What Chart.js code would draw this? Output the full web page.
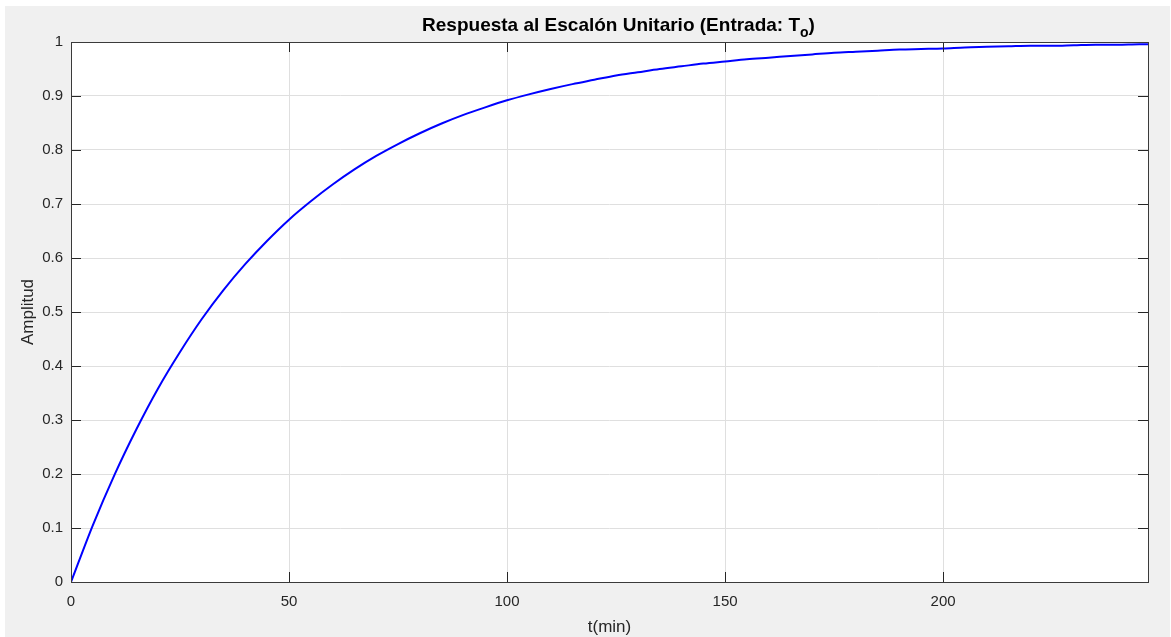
<!DOCTYPE html>
<html>
<head>
<meta charset="utf-8">
<title>Respuesta al Escalón Unitario</title>
<script src="https://cdn.jsdelivr.net/npm/chart.js@4/dist/chart.umd.min.js"></script>
<style>
  html, body { margin: 0; padding: 0; background: #ffffff; }
  canvas { display: block; }
</style>
</head>
<body>
<canvas id="c" width="1171" height="637"></canvas>
<script>
// Step response samples: time in minutes and output amplitude
const tiempo = [0, 5, 10, 15, 20, 25, 30, 35, 40, 45, 50, 55, 60, 65, 70, 75, 80, 85, 90, 95,
  100, 105, 110, 115, 120, 125, 130, 135, 140, 145, 150, 155, 160, 165, 170, 175, 180, 185,
  190, 195, 200, 205, 210, 215, 220, 225, 230, 235, 240, 245, 247];
const amplitud = [0, 0.105, 0.199, 0.283, 0.359, 0.426, 0.487, 0.541, 0.589, 0.632, 0.671,
  0.705, 0.736, 0.764, 0.789, 0.811, 0.831, 0.849, 0.865, 0.879, 0.892, 0.903, 0.913, 0.922,
  0.930, 0.938, 0.944, 0.950, 0.955, 0.960, 0.964, 0.968, 0.971, 0.974, 0.977, 0.980, 0.982,
  0.984, 0.986, 0.987, 0.988, 0.990, 0.991, 0.992, 0.993, 0.993, 0.994, 0.995, 0.995, 0.996,
  0.996];

// Axis ticks
const xTicks = [0, 50, 100, 150, 200];
const yTicks = [0, 0.1, 0.2, 0.3, 0.4, 0.5, 0.6, 0.7, 0.8, 0.9, 1];
const xMax = 247;

const titulo = 'Respuesta al Escalón Unitario (Entrada: T';
const tituloSub = 'o';
const etiquetaX = 't(min)';
const etiquetaY = 'Amplitud';

const FONT = '"Liberation Sans", Arial, Helvetica, sans-serif';
const AXIS = '#262626';
const TICK_LEN = 10;

const puntos = tiempo.map((t, i) => ({ x: t, y: amplitud[i] }));

// Figure background, title, axis labels, boxed axes and inward ticks
const marco = {
  id: 'marco',
  beforeDraw(chart) {
    const ctx = chart.ctx;
    ctx.save();
    ctx.fillStyle = '#ffffff';
    ctx.fillRect(0, 0, chart.width, chart.height);
    ctx.fillStyle = '#f0f0f0';
    ctx.fillRect(5, 6, chart.width - 6, chart.height - 6);
    const a = chart.chartArea;
    ctx.fillStyle = '#ffffff';
    ctx.fillRect(a.left, a.top, a.right - a.left, a.bottom - a.top);
    ctx.restore();
  },
  afterDatasetsDraw(chart) {
    const ctx = chart.ctx;
    const a = chart.chartArea;
    const xs = chart.scales.x, ys = chart.scales.y;
    ctx.save();
    ctx.strokeStyle = AXIS;
    ctx.lineWidth = 1;
    ctx.beginPath();
    xTicks.forEach(v => {
      const px = Math.round(xs.getPixelForValue(v)) + 0.5;
      ctx.moveTo(px, a.bottom); ctx.lineTo(px, a.bottom - TICK_LEN);
      ctx.moveTo(px, a.top); ctx.lineTo(px, a.top + TICK_LEN);
    });
    yTicks.forEach(v => {
      const py = Math.round(ys.getPixelForValue(v)) + 0.5;
      ctx.moveTo(a.left, py); ctx.lineTo(a.left + TICK_LEN, py);
      ctx.moveTo(a.right, py); ctx.lineTo(a.right - TICK_LEN, py);
    });
    ctx.stroke();
    ctx.strokeStyle = '#3a3a3a';
    ctx.strokeRect(Math.round(a.left) + 0.5, Math.round(a.top) + 0.5,
      Math.round(a.right - a.left), Math.round(a.bottom - a.top));

    // title with subscript
    const cx = (a.left + a.right) / 2;
    ctx.fillStyle = '#000000';
    ctx.font = 'bold 19px ' + FONT;
    const wMain = ctx.measureText(titulo).width;
    ctx.font = 'bold 14px ' + FONT;
    const wSub = ctx.measureText(tituloSub).width;
    ctx.font = 'bold 19px ' + FONT;
    const wClose = ctx.measureText(')').width;
    let x0 = cx + 9 - (wMain + wSub + wClose) / 2;
    const base = 31;
    ctx.textAlign = 'left';
    ctx.textBaseline = 'alphabetic';
    ctx.fillText(titulo, x0, base);
    ctx.font = 'bold 14px ' + FONT;
    ctx.fillText(tituloSub, x0 + wMain, base + 6);
    ctx.font = 'bold 19px ' + FONT;
    ctx.fillText(')', x0 + wMain + wSub, base);

    // axis labels
    ctx.fillStyle = AXIS;
    ctx.font = '17px ' + FONT;
    ctx.textAlign = 'center';
    ctx.textBaseline = 'middle';
    ctx.fillText(etiquetaX, cx, 627);
    ctx.translate(28, (a.top + a.bottom) / 2);
    ctx.rotate(-Math.PI / 2);
    ctx.fillText(etiquetaY, 0, 0);
    ctx.restore();
  }
};

new Chart(document.getElementById('c'), {
  type: 'line',
  data: {
    datasets: [{
      data: puntos,
      borderColor: '#0000ff',
      borderWidth: 2,
      pointRadius: 0,
      fill: false,
      cubicInterpolationMode: 'monotone'
    }]
  },
  options: {
    responsive: false,
    animation: false,
    devicePixelRatio: 1,
    layout: { padding: { left: 0, top: 42, right: 23, bottom: 0 } },
    plugins: { legend: { display: false }, title: { display: false }, tooltip: { enabled: false } },
    scales: {
      x: {
        type: 'linear',
        min: 0,
        max: xMax,
        afterBuildTicks(scale) { scale.ticks = xTicks.map(v => ({ value: v })); },
        afterFit(scale) { scale.height = 55; },
        ticks: {
          padding: 11,
          color: AXIS,
          font: { family: FONT, size: 15 },
          maxRotation: 0,
          callback: v => String(v)
        },
        grid: { color: '#dfdfdf', lineWidth: 1, drawTicks: false },
        border: { display: false }
      },
      y: {
        type: 'linear',
        min: 0,
        max: 1,
        afterBuildTicks(scale) { scale.ticks = yTicks.map(v => ({ value: v })); },
        afterFit(scale) { scale.width = 71; },
        ticks: {
          padding: 8,
          color: AXIS,
          font: { family: FONT, size: 15 },
          callback: v => String(Number(v.toFixed(1)))
        },
        grid: { color: '#dfdfdf', lineWidth: 1, drawTicks: false },
        border: { display: false }
      }
    }
  },
  plugins: [marco]
});
</script>
</body>
</html>
